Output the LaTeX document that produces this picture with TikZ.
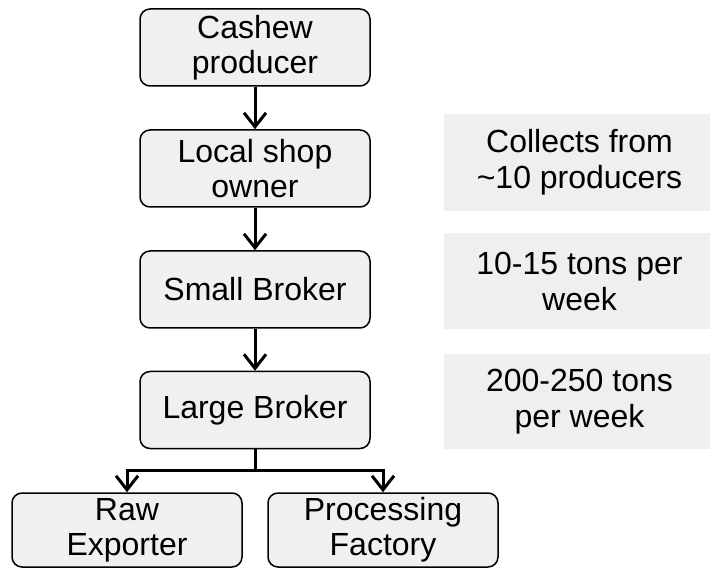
\documentclass[tikz,border=0pt]{standalone}
\usepackage{fontspec}
\setmainfont{Liberation Sans}
\usetikzlibrary{arrows.meta}
\definecolor{boxgray}{HTML}{F0F0F0}
\definecolor{notegray}{HTML}{EFEFEF}
\begin{document}
\begin{tikzpicture}[x=1pt,y=-1pt,
  flowbox/.style={draw=black, line width=1.5pt, fill=boxgray, rounded corners=10pt,
    minimum width=230pt, minimum height=77pt, align=center, inner sep=0pt,
    font=\fontsize{32}{35}\selectfont},
  notebox/.style={fill=notegray, minimum width=271pt, minimum height=97pt,
    align=center, inner sep=0pt, font=\fontsize{32}{36}\selectfont},
  flow/.style={line width=3pt, -{Straight Barb[length=14pt,width=22pt,line width=3pt]}},
  flowline/.style={line width=3pt}
]
\useasboundingbox (0,0) rectangle (710,569);
\node[flowbox] (cashew) at (255,47.5) {Cashew\\producer};
\node[flowbox] (local) at (255,168.5) {Local shop\\owner};
\node[flowbox] (small) at (255,289.5) {Small Broker};
\node[flowbox] (large) at (255,410) {Large Broker};
\node[flowbox, minimum height=74pt] (raw) at (127,530) {Raw\\Exporter};
\node[flowbox, minimum height=74pt] (proc) at (383,530) {Processing\\Factory};
\node[notebox] (n1) at (579.5,162.5) {Collects from\\\textasciitilde10 producers};
\node[notebox, minimum height=96pt] (n2) at (579.5,281) {10-15 tons per\\week};
\node[notebox, minimum height=95pt] (n3) at (579.5,401.5) {200-250 tons\\per week};
\draw[flow] (cashew.south) -- (local.north);
\draw[flow] (local.south) -- (small.north);
\draw[flow] (small.south) -- (large.north);
\coordinate (split) at (large.south |- 0,470);
\coordinate (lsplit) at (raw.north |- 0,470);
\coordinate (rsplit) at (proc.north |- 0,470);
\draw[flowline] (large.south) -- (split);
\draw[flowline] ([xshift=-1.5pt]lsplit) -- ([xshift=1.5pt]rsplit);
\draw[flow] (lsplit) -- (raw.north);
\draw[flow] (rsplit) -- (proc.north);
\end{tikzpicture}
\end{document}
